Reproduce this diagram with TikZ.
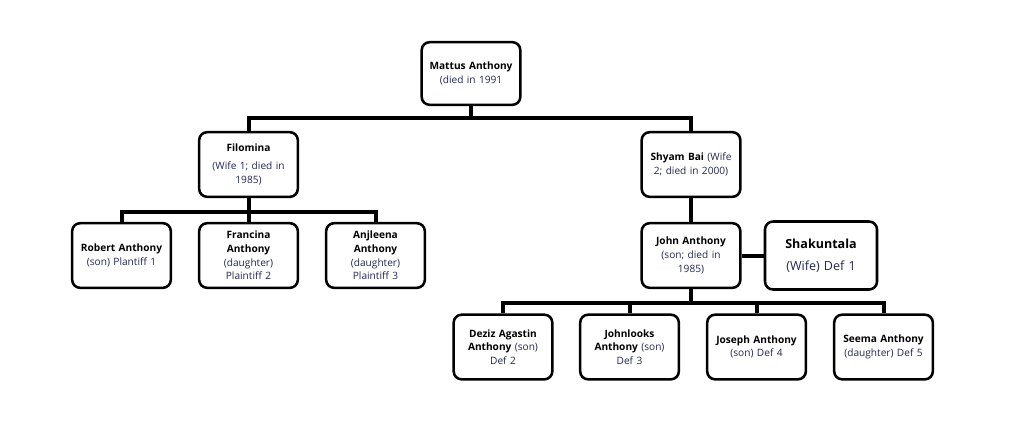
\documentclass[tikz,border=0pt]{standalone}
\usepackage{fontspec}
\setmainfont{Open Sans}
\definecolor{nv}{RGB}{35,40,85}
\begin{document}
\begin{tikzpicture}[x=0.75pt,y=-0.75pt,
  box/.style={draw=black, line width=1.9pt, rounded corners=6pt, fill=white,
    minimum width=74pt, minimum height=48.5pt, align=center, text width=72pt,
    inner sep=0pt, text=nv, font=\fontsize{7.6}{10.3}\selectfont},
  conn/.style={line width=3pt, black}]
\useasboundingbox (0,0) rectangle (1030,444);
\newcommand\bn[1]{\textbf{\color{black}#1}}
% nodes
\node[box, minimum height=47pt] (m) at (471,73.5) {\bn{Mattus Anthony}\\(died in 1991};
\node[box] (f) at (248.5,164.5) {\bn{Filomina}\\[3pt](Wife 1; died in\\1985)};
\node[box] (s) at (691,164.5) {\bn{Shyam Bai} (Wife\\2; died in 2000)};
\node[box] (r) at (121.5,255.5) {\bn{Robert Anthony}\\(son) Plantiff 1};
\node[box] (fr) at (248.5,255.5) {\bn{Francina}\\\bn{Anthony}\\(daughter)\\Plaintiff 2};
\node[box] (a) at (375.5,255.5) {\bn{Anjleena}\\\bn{Anthony}\\(daughter)\\Plaintiff 3};
\node[box] (j) at (691,255.5) {\bn{John Anthony}\\(son; died in\\1985)};
\node[box, minimum width=84pt, minimum height=51pt, text width=82pt, font=\fontsize{9.4}{13.5}\selectfont] (sh) at (821,255.5) {\bn{Shakuntala}\\[3pt](Wife) Def 1};
\node[box] (d) at (503,347) {\bn{Deziz Agastin}\\\bn{Anthony} (son)\\Def 2};
\node[box] (jl) at (629.5,347) {\bn{Johnlooks}\\\bn{Anthony} (son)\\Def 3};
\node[box] (jo) at (756.5,347) {\bn{Joseph Anthony}\\(son) Def 4};
\node[box] (se) at (883.5,347) {\bn{Seema Anthony}\\(daughter) Def 5};
% connectors
\draw[conn] (m.south) -- ++(0,12) coordinate (m1);
\draw[conn] (f.north) |- (m1) -| (s.north);
\draw[conn] (f.south) -- ++(0,14) coordinate (f1);
\draw[conn] (r.north) |- (f1) -| (a.north);
\draw[conn] (f1) -- (fr.north);
\draw[conn] (s.south) -- (j.north);
\draw[conn] (j.east) -- (sh.west);
\draw[conn] (j.south) -- ++(0,14) coordinate (j1);
\draw[conn] (d.north) |- (j1) -| (se.north);
\draw[conn] (jl.north) |- (j1);
\draw[conn] (jo.north) |- (j1);
\end{tikzpicture}
\end{document}
